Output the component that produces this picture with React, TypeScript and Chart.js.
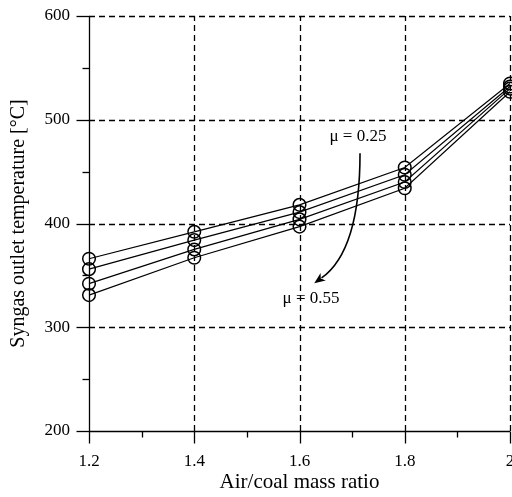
import { useEffect, useRef } from 'react';
import { Chart, registerables } from 'chart.js';

Chart.register(...registerables);

const airCoalRatio = [1.2, 1.4, 1.6, 1.8, 2.0];
const mu025 = [366, 392, 418, 454, 535];
const mu035 = [356, 384, 411, 447, 532];
const mu045 = [342, 375, 404, 440, 530];
const mu055 = [331, 367, 397, 434, 527];
const seriesNames = ['μ = 0.25', 'μ = 0.35', 'μ = 0.45', 'μ = 0.55'];
const xMajorTicks = [1.2, 1.4, 1.6, 1.8, 2.0];
const xMinorTicks = [1.3, 1.5, 1.7, 1.9];
const yMajorTicks = [200, 300, 400, 500, 600];
const yMinorTicks = [250, 350, 450, 550];
const topLabel = 'μ = 0.25';
const bottomLabel = 'μ = 0.55';

const FONT = '"Liberation Serif", "Times New Roman", serif';

const axesPlugin = {
  id: 'customAxes',
  beforeDatasetsDraw(chart: any) {
    const { ctx, chartArea, scales } = chart;
    const xs = scales.x;
    const ys = scales.y;
    ctx.save();
    ctx.strokeStyle = '#000';
    ctx.lineWidth = 1.3;
    ctx.setLineDash([6, 4]);
    xMajorTicks.slice(1).forEach((v) => {
      const px = Math.round(xs.getPixelForValue(v)) + 0.5;
      ctx.beginPath();
      ctx.moveTo(px, chartArea.bottom);
      ctx.lineTo(px, chartArea.top);
      ctx.stroke();
    });
    yMajorTicks.slice(1).forEach((v) => {
      const py = Math.round(ys.getPixelForValue(v)) + 0.5;
      ctx.beginPath();
      ctx.moveTo(chartArea.left, py);
      ctx.lineTo(chartArea.right, py);
      ctx.stroke();
    });
    ctx.setLineDash([]);
    ctx.lineWidth = 1.3;
    const ax = Math.round(xs.getPixelForValue(xMajorTicks[0])) + 0.5;
    const ay = Math.round(ys.getPixelForValue(yMajorTicks[0])) + 0.5;
    ctx.beginPath();
    ctx.moveTo(ax, ys.getPixelForValue(yMajorTicks[yMajorTicks.length - 1]));
    ctx.lineTo(ax, ay);
    ctx.lineTo(xs.getPixelForValue(xMajorTicks[xMajorTicks.length - 1]), ay);
    ctx.stroke();
    xMajorTicks.forEach((v) => {
      const px = Math.round(xs.getPixelForValue(v)) + 0.5;
      ctx.beginPath();
      ctx.moveTo(px, ay);
      ctx.lineTo(px, ay + 12);
      ctx.stroke();
    });
    xMinorTicks.forEach((v) => {
      const px = Math.round(xs.getPixelForValue(v)) + 0.5;
      ctx.beginPath();
      ctx.moveTo(px, ay);
      ctx.lineTo(px, ay + 6);
      ctx.stroke();
    });
    yMajorTicks.forEach((v) => {
      const py = Math.round(ys.getPixelForValue(v)) + 0.5;
      ctx.beginPath();
      ctx.moveTo(ax - 13, py);
      ctx.lineTo(ax, py);
      ctx.stroke();
    });
    yMinorTicks.forEach((v) => {
      const py = Math.round(ys.getPixelForValue(v)) + 0.5;
      ctx.beginPath();
      ctx.moveTo(ax - 7, py);
      ctx.lineTo(ax, py);
      ctx.stroke();
    });
    ctx.restore();
  },
};

const annotationPlugin = {
  id: 'muAnnotation',
  afterDatasetsDraw(chart: any) {
    const { ctx, scales } = chart;
    const xs = scales.x;
    const ys = scales.y;
    const P = (x: number, y: number) => [xs.getPixelForValue(x), ys.getPixelForValue(y)];
    ctx.save();
    ctx.fillStyle = '#000';
    ctx.strokeStyle = '#000';
    ctx.font = '17px ' + FONT;
    ctx.textAlign = 'center';
    ctx.textBaseline = 'middle';
    const [t1x, t1y] = P(1.711, 483.5);
    ctx.fillText(topLabel, t1x, t1y);
    const [t2x, t2y] = P(1.622, 328);
    ctx.fillText(bottomLabel, t2x, t2y);

    const [sx, sy] = P(1.715, 467.8);
    const [cx, cy] = P(1.715, 374);
    const [ex, ey] = P(1.628, 342.5);
    const ang = Math.atan2(ey - cy, ex - cx);
    const headLen = 11;
    const headW = 4.5;
    const bx = ex - headLen * Math.cos(ang);
    const by = ey - headLen * Math.sin(ang);
    ctx.lineWidth = 1.6;
    ctx.beginPath();
    ctx.moveTo(sx, sy);
    ctx.quadraticCurveTo(cx, cy, bx + 2 * Math.cos(ang), by + 2 * Math.sin(ang));
    ctx.stroke();
    ctx.beginPath();
    ctx.moveTo(ex, ey);
    ctx.lineTo(bx + headW * Math.sin(ang), by - headW * Math.cos(ang));
    ctx.lineTo(bx + 3 * Math.cos(ang), by + 3 * Math.sin(ang));
    ctx.lineTo(bx - headW * Math.sin(ang), by + headW * Math.cos(ang));
    ctx.closePath();
    ctx.fill();
    ctx.restore();
  },
};

export default function App() {
  const ref = useRef<HTMLCanvasElement | null>(null);
  useEffect(() => {
    if (!ref.current) return;
    const allSeries = [mu025, mu035, mu045, mu055];
    const chart = new Chart(ref.current, {
      type: 'line',
      data: {
        datasets: allSeries.map((s, i) => ({
          label: seriesNames[i],
          data: airCoalRatio.map((x, j) => ({ x, y: s[j] })),
          borderColor: '#000',
          borderWidth: 1.2,
          backgroundColor: 'rgba(0,0,0,0)',
          pointRadius: 6.3,
          pointBorderWidth: 1.5,
          pointBorderColor: '#000',
          pointBackgroundColor: 'rgba(0,0,0,0)',
          pointStyle: 'circle',
          tension: 0,
          fill: false,
          clip: false,
        })),
      },
      options: {
        responsive: false,
        animation: false,
        events: [],
        layout: { autoPadding: false, padding: { top: 16, right: 2, left: 0, bottom: 0 } },
        plugins: { legend: { display: false }, tooltip: { enabled: false } },
        scales: {
          x: {
            type: 'linear',
            min: 1.2,
            max: 2.0,
            grid: { display: false, drawTicks: false },
            border: { display: false },
            ticks: {
              stepSize: 0.2,
              padding: 20,
              color: '#000',
              font: { family: FONT, size: 17 },
              maxRotation: 0,
              callback: (v: any) => String(Number(Number(v).toFixed(1))),
            },
            title: {
              display: true,
              text: 'Air/coal mass ratio',
              color: '#000',
              font: { family: FONT, size: 21 },
              padding: { top: 0, bottom: 2 },
            },
            afterFit: (s: any) => {
              s.height = 66;
              s.paddingLeft = 0;
              s.paddingRight = 0;
            },
          },
          y: {
            type: 'linear',
            min: 200,
            max: 600,
            grid: { display: false, drawTicks: false },
            border: { display: false },
            ticks: {
              stepSize: 100,
              padding: 19,
              color: '#000',
              font: { family: FONT, size: 17 },
            },
            title: {
              display: true,
              text: 'Syngas outlet temperature [°C]',
              color: '#000',
              font: { family: FONT, size: 20 },
              padding: { top: 7, bottom: 0 },
            },
            afterFit: (s: any) => {
              s.width = 89;
              s.paddingTop = 0;
              s.paddingBottom = 0;
            },
          },
        },
      },
      plugins: [axesPlugin, annotationPlugin],
    } as any);
    return () => chart.destroy();
  }, []);
  return (
    <div style={{ position: 'absolute', left: 0, top: 0, width: 512, height: 497, background: '#fff' }}>
      <canvas ref={ref} width={512} height={497} />
    </div>
  );
}
